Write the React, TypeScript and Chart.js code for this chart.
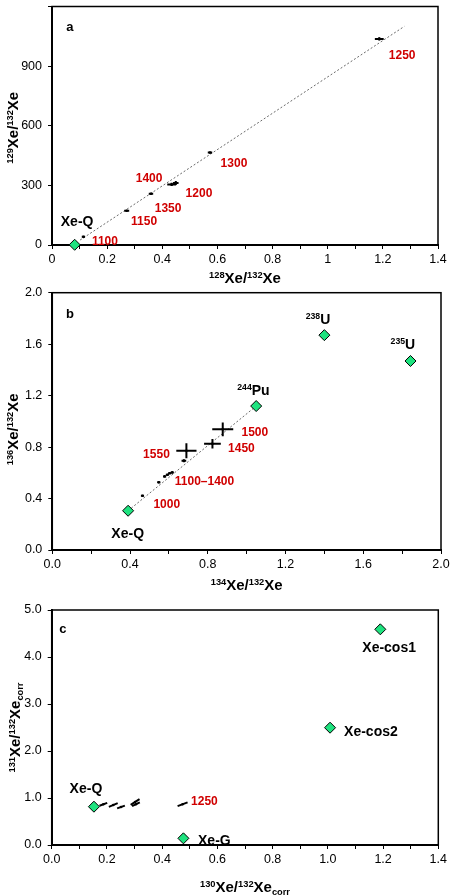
import React, { useEffect, useRef } from 'react';
import { Chart, registerables } from 'chart.js';

Chart.register(...registerables);

const W = 453;
const H = 896;
const GREEN = '#1ee37f';
const RED = '#d00000';
const FAMILY = '"Liberation Sans", Arial, sans-serif';

type Seg = [string, 'n' | 'sup' | 'sub'];

// ---------- Panel a : 129Xe/132Xe vs 128Xe/132Xe ----------
const aStepX = [0.114, 0.271, 0.359, 0.434, 0.449, 0.573, 1.187];
const aStepY = [41, 172, 258, 305, 312, 465, 1037];
const aStepXErr = [0.006, 0.009, 0.008, 0.016, 0.01, 0.008, 0.016];
const aStepYErr = [3, 3, 4, 8, 10, 5, 8];
const aRefX = [0.0822];
const aRefY = [1.04];
const aLineX = [0.102, 1.278];
const aLineY = [25, 1100];
const aLabelText = ['1250', '1300', '1400', '1200', '1350', '1150', '1100'];
const aLabelX = [1.27, 0.66, 0.352, 0.533, 0.421, 0.334, 0.192];
const aLabelY = [960, 415, 340, 265, 190, 120, 20];
const aNameText = ['Xe-Q'];
const aNameX = [0.091];
const aNameY = [120];

// ---------- Panel b : 136Xe/132Xe vs 134Xe/132Xe ----------
const bStepX = [0.464, 0.548, 0.578, 0.592, 0.604, 0.617, 0.677, 0.824, 0.877, 0.69];
const bStepY = [0.422, 0.526, 0.572, 0.585, 0.597, 0.603, 0.694, 0.826, 0.938, 0.772];
const bStepXErr = [0.008, 0.008, 0.008, 0.008, 0.008, 0.008, 0.012, 0.043, 0.054, 0.052];
const bStepYErr = [0.008, 0.008, 0.008, 0.008, 0.008, 0.008, 0.012, 0.037, 0.054, 0.058];
const bRefX = [0.39, 1.049, 1.4, 1.843];
const bRefY = [0.305, 1.119, 1.67, 1.469];
const bLineX = [0.39, 1.049];
const bLineY = [0.305, 1.119];
const bLabelText = ['1500', '1450', '1550', '1100–1400', '1000'];
const bLabelX = [1.042, 0.973, 0.536, 0.783, 0.589];
const bLabelY = [0.919, 0.795, 0.751, 0.539, 0.363];
const bNameSegs: Seg[][] = [
  [['244', 'sup'], ['Pu', 'n']],
  [['238', 'sup'], ['U', 'n']],
  [['235', 'sup'], ['U', 'n']],
  [['Xe-Q', 'n']],
];
const bNameX = [1.035, 1.367, 1.804, 0.388];
const bNameY = [1.243, 1.793, 1.6, 0.135];

// ---------- Panel c : 131Xe/132Xe corr vs 130Xe/132Xe corr ----------
const cStepX = [0.187, 0.223, 0.251, 0.302, 0.305, 0.474];
const cStepY = [0.866, 0.851, 0.809, 0.915, 0.866, 0.866];
const cStepXErr = [0.014, 0.016, 0.014, 0.016, 0.014, 0.018];
const cStepYErr = [0.03, 0.04, 0.03, 0.06, 0.04, 0.04];
const cRefX = [0.153, 0.477, 1.008, 1.19];
const cRefY = [0.815, 0.142, 2.496, 4.589];
const cLabelText = ['1250'];
const cLabelX = [0.553];
const cLabelY = [0.936];
const cNameText = ['Xe-Q', 'Xe-G', 'Xe-cos2', 'Xe-cos1'];
const cNameX = [0.124, 0.589, 1.156, 1.222];
const cNameY = [1.22, 0.106, 2.43, 4.206];

interface Lbl { segs: Seg[]; x: number; y: number; color: string; size: number; }
interface Panel {
  id: string;
  area: { left: number; right: number; top: number; bottom: number };
  x: { min: number; max: number; step: number; every: number; fmt: (v: number) => string };
  y: { min: number; max: number; step: number; every: number; fmt: (v: number) => string; hideTop?: boolean };
  steps: { x: number[]; y: number[]; ex: number[]; ey: number[]; slant: boolean; lw: number };
  ref: { x: number[]; y: number[] };
  line?: { x: number[]; y: number[] };
  labels: Lbl[];
  letter: { t: string; x: number; y: number };
  xTitle: Seg[];
  yTitle: Seg[];
  xTitleOff: number;
  yTitleX: number;
  yTitleDy: number;
}

const sup = (a: string, b: string, sub?: boolean): Seg[] => {
  const s: Seg[] = [[a, 'sup'], ['Xe/', 'n'], [b, 'sup'], ['Xe', 'n']];
  if (sub) s.push(['corr', 'sub']);
  return s;
};

const redLabels = (t: string[], x: number[], y: number[]): Lbl[] =>
  t.map((s, i) => ({ segs: [[s, 'n']] as Seg[], x: x[i], y: y[i], color: RED, size: 12 }));
const blackLabels = (t: string[], x: number[], y: number[]): Lbl[] =>
  t.map((s, i) => ({ segs: [[s, 'n']] as Seg[], x: x[i], y: y[i], color: '#000', size: 14 }));

const panels: Panel[] = [
  {
    id: 'a',
    area: { left: 52, right: 438, top: 5, bottom: 245 },
    x: { min: 0, max: 1.4, step: 0.1, every: 2, fmt: (v) => String(v) },
    y: { min: 0, max: 1200, step: 300, every: 1, fmt: (v) => String(v), hideTop: true },
    steps: { x: aStepX, y: aStepY, ex: aStepXErr, ey: aStepYErr, slant: false, lw: 2 },
    ref: { x: aRefX, y: aRefY },
    line: { x: aLineX, y: aLineY },
    labels: [...redLabels(aLabelText, aLabelX, aLabelY), ...blackLabels(aNameText, aNameX, aNameY)],
    letter: { t: 'a', x: 0.065, y: 1100 },
    xTitle: sup('128', '132'),
    yTitle: sup('129', '132'),
    xTitleOff: 33,
    yTitleX: 13,
    yTitleDy: 2,
  },
  {
    id: 'b',
    area: { left: 52.3, right: 441, top: 292.7, bottom: 550 },
    x: { min: 0, max: 2, step: 0.2, every: 2, fmt: (v) => v.toFixed(1) },
    y: { min: 0, max: 2, step: 0.4, every: 1, fmt: (v) => v.toFixed(1) },
    steps: { x: bStepX, y: bStepY, ex: bStepXErr, ey: bStepYErr, slant: false, lw: 2 },
    ref: { x: bRefX, y: bRefY },
    line: { x: bLineX, y: bLineY },
    labels: [
      ...redLabels(bLabelText, bLabelX, bLabelY),
      ...bNameSegs.map((s, i) => ({ segs: s, x: bNameX[i], y: bNameY[i], color: '#000', size: 14 })),
    ],
    letter: { t: 'b', x: 0.091, y: 1.839 },
    xTitle: sup('134', '132'),
    yTitle: sup('136', '132'),
    xTitleOff: 35,
    yTitleX: 13,
    yTitleDy: 8,
  },
  {
    id: 'c',
    area: { left: 51.7, right: 438.3, top: 610, bottom: 845 },
    x: { min: 0, max: 1.4, step: 0.1, every: 2, fmt: (v) => v.toFixed(1) },
    y: { min: 0, max: 5, step: 1, every: 1, fmt: (v) => v.toFixed(1) },
    steps: { x: cStepX, y: cStepY, ex: cStepXErr, ey: cStepYErr, slant: true, lw: 2 },
    ref: { x: cRefX, y: cRefY },
    labels: [...redLabels(cLabelText, cLabelX, cLabelY), ...blackLabels(cNameText, cNameX, cNameY)],
    letter: { t: 'c', x: 0.04, y: 4.6 },
    xTitle: sup('130', '132', true),
    yTitle: sup('131', '132', true),
    xTitleOff: 42,
    yTitleX: 15,
    yTitleDy: 0,
  },
];

function segFont(kind: string, size: number) {
  const s = kind === 'n' ? size : Math.round(size * 0.62 * 10) / 10;
  return `bold ${s}px ${FAMILY}`;
}

function drawRich(ctx: CanvasRenderingContext2D, segs: Seg[], cx: number, cy: number, size: number, color: string) {
  ctx.save();
  ctx.fillStyle = color;
  ctx.textBaseline = 'alphabetic';
  ctx.textAlign = 'left';
  let total = 0;
  const widths = segs.map(([t, k]) => {
    ctx.font = segFont(k, size);
    const w = ctx.measureText(t).width;
    total += w;
    return w;
  });
  let x = cx - total / 2;
  const base = cy + size * 0.36;
  segs.forEach(([t, k], i) => {
    ctx.font = segFont(k, size);
    const yb = k === 'sup' ? base - size * 0.38 : k === 'sub' ? base + size * 0.2 : base;
    ctx.fillText(t, x, yb);
    x += widths[i];
  });
  ctx.restore();
}

function makePlugin(p: Panel) {
  return {
    id: 'decor' + p.id,
    beforeDatasetsDraw(chart: any) {
      const { ctx, chartArea: a } = chart;
      ctx.save();
      ctx.strokeStyle = '#000';
      ctx.lineWidth = 1.5;
      ctx.strokeRect(a.left, a.top, a.right - a.left, a.bottom - a.top);
      ctx.restore();
    },
    afterDatasetsDraw(chart: any) {
      const { ctx } = chart;
      const xs = chart.scales.x;
      const ys = chart.scales.y;
      ctx.save();
      ctx.strokeStyle = '#000';
      ctx.lineCap = 'butt';
      const s = p.steps;
      s.x.forEach((xv, i) => {
        const yv = s.y[i];
        ctx.lineWidth = s.lw;
        ctx.beginPath();
        if (s.slant) {
          ctx.moveTo(xs.getPixelForValue(xv - s.ex[i]), ys.getPixelForValue(yv - s.ey[i]));
          ctx.lineTo(xs.getPixelForValue(xv + s.ex[i]), ys.getPixelForValue(yv + s.ey[i]));
        } else {
          ctx.moveTo(xs.getPixelForValue(xv - s.ex[i]), ys.getPixelForValue(yv));
          ctx.lineTo(xs.getPixelForValue(xv + s.ex[i]), ys.getPixelForValue(yv));
          ctx.moveTo(xs.getPixelForValue(xv), ys.getPixelForValue(yv - s.ey[i]));
          ctx.lineTo(xs.getPixelForValue(xv), ys.getPixelForValue(yv + s.ey[i]));
        }
        ctx.stroke();
      });
      ctx.restore();
      p.labels.forEach((l) => {
        drawRich(ctx, l.segs, xs.getPixelForValue(l.x), ys.getPixelForValue(l.y), l.size, l.color);
      });
      drawRich(ctx, [[p.letter.t, 'n']], xs.getPixelForValue(p.letter.x), ys.getPixelForValue(p.letter.y), 13, '#000');
    },
    afterDraw(chart: any) {
      const { ctx, chartArea: a } = chart;
      const cx = (a.left + a.right) / 2;
      const cy = (a.top + a.bottom) / 2;
      drawRich(ctx, p.xTitle, cx, a.bottom + p.xTitleOff, 15, '#000');
      ctx.save();
      ctx.translate(p.yTitleX, cy + p.yTitleDy);
      ctx.rotate(-Math.PI / 2);
      drawRich(ctx, p.yTitle, 0, 0, 15, '#000');
      ctx.restore();
    },
  };
}

function buildConfig(p: Panel): any {
  const tickFont = { family: FAMILY, size: 12.5 };
  const pts = (xa: number[], ya: number[]) => xa.map((x, i) => ({ x, y: ya[i] }));
  const datasets: any[] = [
    {
      data: pts(p.ref.x, p.ref.y),
      pointStyle: 'rectRot',
      pointRadius: 5.5,
      backgroundColor: GREEN,
      borderColor: '#000',
      borderWidth: 1,
      clip: false,
    },
    {
      data: pts(p.steps.x, p.steps.y),
      pointRadius: 1.3,
      backgroundColor: '#000',
      borderWidth: 0,
    },
  ];
  if (p.line) {
    datasets.push({
      data: pts(p.line.x, p.line.y),
      showLine: true,
      borderColor: '#6a6a6a',
      borderWidth: 1,
      borderDash: [2, 2],
      pointRadius: 0,
      order: 5,
    });
  }
  const xAxisH = 30;
  return {
    type: 'scatter',
    data: { datasets },
    plugins: [makePlugin(p)],
    options: {
      responsive: false,
      animation: false,
      devicePixelRatio: 1,
      events: [],
      layout: {
        padding: {
          left: 0,
          right: W - p.area.right,
          top: p.area.top,
          bottom: H - p.area.bottom - xAxisH,
        },
      },
      plugins: { legend: { display: false }, tooltip: { enabled: false } },
      scales: {
        x: {
          type: 'linear',
          min: p.x.min,
          max: p.x.max,
          afterFit: (s: any) => {
            s.height = xAxisH;
            s.paddingLeft = 0;
            s.paddingRight = 0;
          },
          ticks: {
            stepSize: p.x.step,
            autoSkip: false,
            maxRotation: 0,
            color: '#000',
            font: tickFont,
            padding: 3.5,
            callback: (v: number) => {
              const k = Math.round(v / p.x.step);
              return k % p.x.every === 0 ? p.x.fmt(Math.round(v * 1000) / 1000) : '';
            },
          },
          grid: { drawOnChartArea: false, drawTicks: true, tickLength: 4, color: '#000', lineWidth: 1 },
          border: { display: true, color: '#000', width: 2 },
        },
        y: {
          type: 'linear',
          min: p.y.min,
          max: p.y.max,
          afterFit: (s: any) => {
            s.width = p.area.left;
            s.paddingTop = 0;
            s.paddingBottom = 0;
          },
          ticks: {
            stepSize: p.y.step,
            autoSkip: false,
            color: '#000',
            font: tickFont,
            padding: 6,
            callback: (v: number) => {
              if (p.y.hideTop && Math.abs(v - p.y.max) < 1e-9) return '';
              return p.y.fmt(Math.round(v * 1000) / 1000);
            },
          },
          grid: { drawOnChartArea: false, drawTicks: true, tickLength: 4, color: '#000', lineWidth: 1 },
          border: { display: true, color: '#000', width: 2 },
        },
      },
    },
  };
}

function PanelCanvas({ panel }: { panel: Panel }) {
  const ref = useRef<HTMLCanvasElement>(null);
  useEffect(() => {
    const chart = new Chart(ref.current as HTMLCanvasElement, buildConfig(panel));
    return () => chart.destroy();
  }, [panel]);
  return (
    <canvas
      ref={ref}
      width={W}
      height={H}
      style={{ position: 'absolute', left: 0, top: 0, width: W, height: H }}
    />
  );
}

export default function App() {
  return (
    <div style={{ position: 'absolute', left: 0, top: 0, width: W, height: H, background: '#fff', overflow: 'hidden' }}>
      {panels.map((p) => (
        <PanelCanvas key={p.id} panel={p} />
      ))}
    </div>
  );
}
